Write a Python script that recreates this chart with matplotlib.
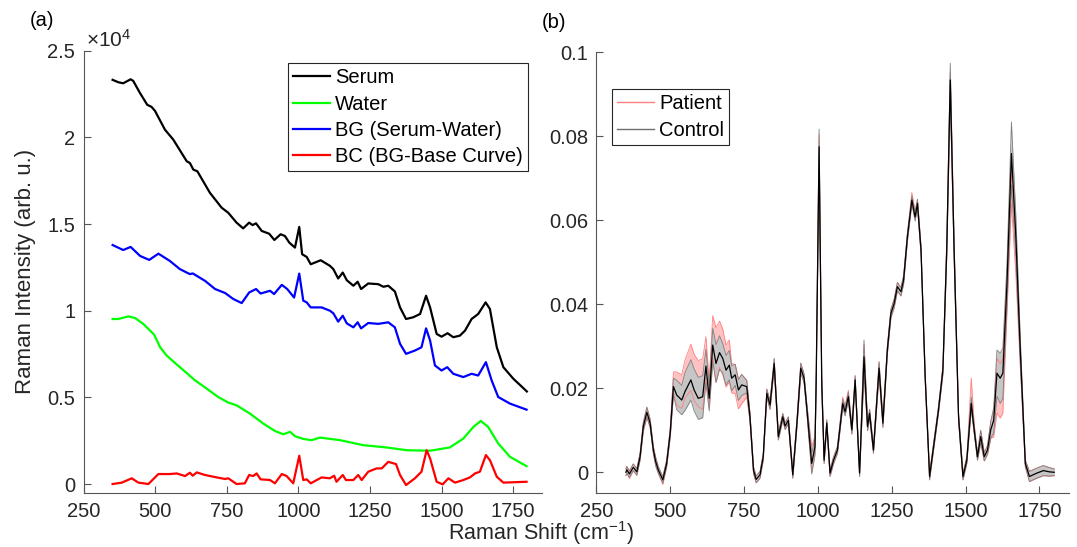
import numpy as np
import matplotlib
matplotlib.use("Agg")
import matplotlib.pyplot as plt
from matplotlib.lines import Line2D
from matplotlib.ticker import FuncFormatter

plt.rcParams['font.family'] = ['Liberation Sans', 'DejaVu Sans']
plt.rcParams['mathtext.default'] = 'regular'

# ---- panel (a): raw spectra, counts ----
serum_x = [351, 371, 388, 414, 423, 447, 472, 487, 499, 534, 563, 610, 621, 633, 647,
           691, 732, 755, 784, 807, 828, 840, 852, 872, 898, 916, 938, 953, 968, 988,
           1003, 1013, 1029, 1043, 1078, 1110, 1122, 1139, 1155, 1169, 1192, 1207, 1219,
           1244, 1279, 1297, 1314, 1337, 1355, 1376, 1401, 1425, 1446, 1460, 1483, 1500,
           1521, 1541, 1564, 1582, 1605, 1628, 1654, 1669, 1693, 1716, 1751, 1775, 1798]
serum_y = [23320, 23180, 23120, 23350, 23260, 22550, 21880, 21760, 21530, 20440, 19870,
           18620, 18520, 18140, 18045, 16800, 15940, 15650, 15080, 14750, 15080, 14940,
           15040, 14600, 14440, 14080, 14410, 14310, 13930, 13640, 14830, 13260, 13100,
           12680, 12910, 12590, 12400, 11860, 12200, 11760, 11440, 11670, 11250, 11570,
           11530, 11380, 11440, 11110, 10190, 9520, 9620, 9810, 10860, 10190, 8660, 8500,
           8700, 8470, 8560, 8850, 9520, 9810, 10480, 10100, 7890, 6740, 6070, 5700, 5340]

bg_x = [351, 388, 414, 447, 479, 511, 551, 586, 621, 631, 645, 674, 709, 744, 773, 802,
        828, 852, 868, 901, 915, 942, 961, 985, 1003, 1017, 1029, 1043, 1081, 1110, 1122,
        1139, 1155, 1169, 1192, 1207, 1219, 1244, 1279, 1314, 1337, 1355, 1376, 1407, 1430,
        1446, 1460, 1477, 1500, 1520, 1541, 1576, 1605, 1628, 1655, 1675, 1698, 1739, 1797]
bg_y = [13790, 13500, 13680, 13160, 12930, 13290, 12870, 12400, 12110, 12150, 12010, 11720,
        11250, 11020, 10670, 10440, 11050, 11250, 10990, 11150, 10960, 11490, 11250, 10760,
        12140, 10580, 10480, 10190, 10190, 10000, 9850, 9370, 9710, 9270, 9040, 9330, 8980,
        9290, 9240, 9330, 9040, 8090, 7510, 7700, 7890, 8980, 8280, 6840, 6550, 6740, 6360,
        6170, 6360, 6260, 7030, 5980, 5020, 4640, 4290]

water_x = [351, 371, 406, 429, 458, 482, 496, 517, 540, 575, 610, 639, 680, 720, 755, 784,
           831, 877, 918, 947, 971, 988, 1017, 1046, 1075, 1145, 1227, 1308, 1378, 1460,
           1529, 1576, 1611, 1637, 1663, 1698, 1739, 1797]
water_y = [9520, 9520, 9670, 9580, 9240, 8850, 8620, 7890, 7410, 6900, 6400, 5980, 5500,
           5020, 4700, 4540, 4060, 3490, 3060, 2870, 3010, 2760, 2600, 2530, 2680, 2530,
           2240, 2110, 1950, 1920, 2110, 2620, 3290, 3640, 3290, 2340, 1570, 1030]

bc_x = [351, 383, 418, 441, 476, 511, 551, 575, 604, 621, 631, 645, 674, 715, 744, 755,
        784, 813, 828, 842, 854, 868, 901, 918, 942, 959, 982, 1003, 1017, 1029, 1043,
        1081, 1110, 1125, 1133, 1155, 1166, 1192, 1209, 1221, 1244, 1273, 1291, 1314, 1341,
        1355, 1376, 1407, 1430, 1448, 1460, 1483, 1504, 1524, 1547, 1576, 1599, 1617, 1634,
        1655, 1669, 1693, 1716, 1797]
bc_y = [0, 80, 330, 80, 0, 575, 575, 610, 460, 650, 480, 670, 520, 380, 290, 330, 0, 40,
        520, 460, 610, 270, 230, 40, 575, 460, 40, 1630, 230, 270, 40, 380, 330, 480, 130,
        520, 230, 230, 520, 230, 710, 900, 900, 1280, 1150, 520, -60, 330, 710, 1950, 1480,
        130, -20, 330, 80, 230, 380, 610, 710, 1670, 1380, 420, 80, 130]

# ---- panel (b): normalised spectra, mean and spread ----
shift_b = [350, 353, 362, 375, 387, 398, 409, 421, 432, 443,
           451, 460, 475, 488, 500, 511, 522, 539, 550, 570,
           581, 595, 610, 621, 632, 644, 655, 667, 678, 689,
           700, 708, 720, 731, 742, 759, 770, 782, 791, 804,
           815, 827, 838, 852, 866, 881, 889, 900, 915, 929,
           942, 953, 962, 979, 990, 994, 1004, 1013, 1021, 1030,
           1041, 1053, 1066, 1084, 1092, 1103, 1115, 1126, 1141, 1156,
           1168, 1175, 1188, 1207, 1220, 1235, 1247, 1258, 1269, 1281,
           1290, 1303, 1318, 1329, 1337, 1349, 1363, 1378, 1393, 1408,
           1423, 1436, 1448, 1461, 1476, 1491, 1504, 1519, 1529, 1540,
           1551, 1563, 1574, 1585, 1595, 1606, 1617, 1626, 1640, 1655,
           1670, 1685, 1702, 1716, 1741, 1763, 1784, 1800]
mean_b = [0.0000, 0.0006, -0.0004, 0.0012, 0.0001, 0.0037, 0.0109, 0.0143, 0.0117, 0.0053,
          0.0025, 0.0005, -0.0018, 0.0021, 0.0093, 0.0204, 0.0184, 0.0172, 0.0192, 0.0220,
          0.0196, 0.0176, 0.0180, 0.0253, 0.0176, 0.0303, 0.0259, 0.0285, 0.0271, 0.0243,
          0.0255, 0.0224, 0.0232, 0.0196, 0.0208, 0.0204, 0.0132, 0.0005, -0.0017, -0.0006,
          0.0037, 0.0188, 0.0160, 0.0259, 0.0085, 0.0132, 0.0110, 0.0124, -0.0006, 0.0117,
          0.0248, 0.0224, 0.0156, 0.0021, 0.0061, 0.0212, 0.0775, 0.0212, 0.0029, 0.0117,
          -0.0002, 0.0029, 0.0053, 0.0164, 0.0144, 0.0180, 0.0101, 0.0220, -0.0002, 0.0275,
          0.0109, 0.0140, 0.0053, 0.0248, 0.0117, 0.0291, 0.0378, 0.0402, 0.0442, 0.0430,
          0.0458, 0.0561, 0.0648, 0.0608, 0.0640, 0.0529, 0.0228, -0.0010, 0.0069, 0.0148,
          0.0243, 0.0529, 0.0934, 0.0529, 0.0132, -0.0010, 0.0029, 0.0164, 0.0101, 0.0037,
          0.0085, 0.0037, 0.0053, 0.0101, 0.0124, 0.0236, 0.0224, 0.0236, 0.0450, 0.0759,
          0.0561, 0.0291, 0.0021, -0.0010, -0.0002, 0.0004, 0.0001, 0.0000]
ctrl_sd = [.0008, .0008, .0008, .0008, .0008, .0008, .0010, .0012, .0010, .0008,
           .0010, .0008, .0008, .0008, .0010, .0020, .0035, .0035, .0045, .0048,
           .0050, .0050, .0050, .0040, .0030, .0040, .0045, .0040, .0035, .0035,
           .0035, .0030, .0025, .0025, .0025, .0015, .0010, .0008, .0008, .0008,
           .0008, .0010, .0010, .0012, .0008, .0008, .0008, .0008, .0008, .0010,
           .0012, .0010, .0010, .0025, .0020, .0015, .0042, .0015, .0008, .0008,
           .0008, .0008, .0008, .0010, .0010, .0010, .0010, .0010, .0008, .0040,
           .0010, .0010, .0008, .0015, .0010, .0010, .0010, .0010, .0010, .0010,
           .0010, .0010, .0010, .0010, .0010, .0010, .0010, .0008, .0008, .0008,
           .0010, .0020, .0040, .0020, .0010, .0008, .0008, .0015, .0010, .0008,
           .0015, .0010, .0010, .0020, .0030, .0055, .0060, .0060, .0050, .0075,
           .0050, .0030, .0008, .0012, .0012, .0012, .0010, .0008]
pat_shift = [0, 0, -.0003, 0, 0, 0, 0, 0, 0, 0,
             0, 0, -.0003, 0, 0, .0010, .0015, .0020, .0030, .0030,
             .0030, .0035, .0030, .0020, .0010, .0020, .0020, .0020, .0015, .0010,
             .0010, 0, -.0010, -.0010, -.0010, -.0005, 0, 0, 0, 0,
             0, 0, 0, 0, 0, 0, 0, 0, 0, 0,
             0, 0, 0, .0010, .0005, 0, 0, 0, 0, 0,
             0, 0, 0, .0005, .0005, .0005, 0, 0, 0, 0,
             0, 0, 0, 0, 0, 0, 0, 0, 0, 0,
             0, 0, .0008, .0005, 0, 0, 0, 0, 0, 0,
             0, 0, -.0010, 0, 0, 0, 0, .0025, .0005, 0,
             0, 0, 0, 0, -.0010, -.0030, -.0030, -.0030, -.0030, -.0080,
             -.0050, -.0020, 0, 0, 0, 0, 0, 0]
pat_sd = [.0008, .0008, .0008, .0008, .0008, .0008, .0010, .0012, .0010, .0008,
          .0010, .0008, .0008, .0008, .0010, .0025, .0040, .0040, .0045, .0055,
          .0055, .0055, .0060, .0050, .0030, .0050, .0065, .0055, .0055, .0050,
          .0050, .0035, .0035, .0035, .0035, .0020, .0010, .0008, .0008, .0008,
          .0008, .0010, .0010, .0012, .0008, .0008, .0008, .0008, .0008, .0010,
          .0012, .0010, .0010, .0030, .0020, .0015, .0030, .0015, .0008, .0008,
          .0008, .0008, .0008, .0010, .0010, .0010, .0010, .0010, .0008, .0030,
          .0010, .0010, .0008, .0015, .0010, .0010, .0010, .0010, .0010, .0010,
          .0010, .0010, .0010, .0010, .0010, .0010, .0010, .0008, .0008, .0008,
          .0010, .0020, .0030, .0020, .0010, .0008, .0008, .0035, .0010, .0008,
          .0015, .0010, .0010, .0020, .0030, .0065, .0065, .0065, .0040, .0040,
          .0040, .0020, .0008, .0012, .0012, .0012, .0010, .0008]

xticks = [250, 500, 750, 1000, 1250, 1500, 1750]
axis_col = '#555555'
text_col = '#262626'
fs = 14.5
lab_fs = 16

fig = plt.figure(figsize=(10.77, 5.47), dpi=100)
ax1 = fig.add_axes([0.0777, 0.0993, 0.4253, 0.8080])
ax2 = fig.add_axes([0.5537, 0.0982, 0.4389, 0.8062])

lw = 1.6
ax1.plot(serum_x, serum_y, color='k', lw=lw, label='Serum')
ax1.plot(water_x, water_y, color=(0, 1, 0), lw=lw, label='Water')
ax1.plot(bg_x, bg_y, color=(0, 0, 1), lw=lw, label='BG (Serum-Water)')
ax1.plot(bc_x, bc_y, color=(1, 0, 0), lw=lw, label='BC (BG-Base Curve)')
ax1.set_xlim(250, 1850)
ax1.set_ylim(-500, 25000)
ax1.set_yticks([0, 5000, 10000, 15000, 20000, 25000])
ax1.yaxis.set_major_formatter(FuncFormatter(lambda v, p: '%g' % (v / 1e4)))
ax1.set_ylabel('Raman Intensity (arb. u.)', fontsize=lab_fs, color=text_col)
ax1.yaxis.set_label_coords(-0.105, 0.5)
leg1 = ax1.legend(loc='upper left', bbox_to_anchor=(0.445, 0.9715), borderaxespad=0,
                  fontsize=fs, fancybox=False, framealpha=1, edgecolor='#262626',
                  handlelength=1.85, handletextpad=0.25, labelspacing=0.36, borderpad=0.25)
leg1.get_frame().set_linewidth(0.8)

s = np.array(shift_b)
m = np.array(mean_b)
csd = np.array(ctrl_sd)
pm = m + np.array(pat_shift)
psd = np.array(pat_sd)
ax2.fill_between(s, pm - psd, pm + psd, color='#ffc2c2', lw=0)
ax2.plot(s, pm - psd, color='#ff8080', lw=0.6)
ax2.plot(s, pm + psd, color='#ff8080', lw=0.6)
ax2.fill_between(s, m - csd, m + csd, color='#c6c6c6', lw=0)
ax2.plot(s, m - csd, color='#808080', lw=0.6)
ax2.plot(s, m + csd, color='#808080', lw=0.6)
ax2.plot(s, m, color='k', lw=0.9)
ax2.set_xlim(250, 1850)
ax2.set_ylim(-0.005, 0.1)
ax2.set_yticks([0, 0.02, 0.04, 0.06, 0.08, 0.1])
ax2.yaxis.set_major_formatter(FuncFormatter(lambda v, p: '%g' % round(v, 3)))
handles = [Line2D([], [], color='#ff8080', lw=1.0), Line2D([], [], color='#707070', lw=1.0)]
leg2 = ax2.legend(handles, ['Patient', 'Control'], loc='upper left',
                  bbox_to_anchor=(0.033, 0.916), borderaxespad=0, fontsize=fs,
                  fancybox=False, framealpha=1, edgecolor='#262626', handlelength=1.85,
                  handletextpad=0.25, labelspacing=0.36, borderpad=0.25)
leg2.get_frame().set_linewidth(0.8)

for ax in (ax1, ax2):
    ax.set_xticks(xticks)
    for side in ('top', 'right'):
        ax.spines[side].set_visible(False)
    for side in ('left', 'bottom'):
        ax.spines[side].set_color(axis_col)
        ax.spines[side].set_linewidth(0.8)
    ax.tick_params(direction='in', length=5, width=0.8, color=axis_col,
                   labelsize=fs, labelcolor=text_col)
    ax.tick_params(axis='x', pad=6.5)
    ax.tick_params(axis='y', pad=6)

fig.text(86 / 1077, 1 - 40 / 547, '×10$^{4}$', fontsize=15, color=text_col,
         ha='left', va='center')
fig.text(30 / 1077, 1 - 21 / 547, '(a)', fontsize=fs, color='k', ha='left', va='center')
fig.text(542 / 1077, 1 - 23 / 547, '(b)', fontsize=fs, color='k', ha='left', va='center')
fig.text(0.502, 1 - 540 / 547, 'Raman Shift (cm$^{-1}$)', fontsize=15.5, color=text_col,
         ha='center', va='baseline')

fig.savefig('out.png', dpi=100)
